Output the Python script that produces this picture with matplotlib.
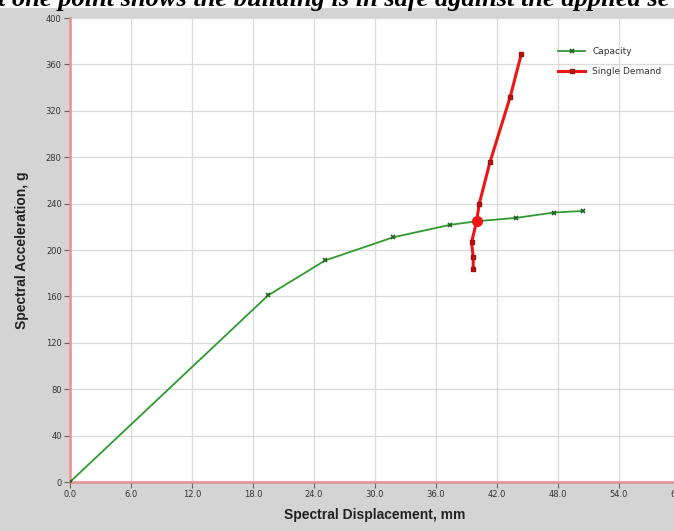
import matplotlib
matplotlib.use("Agg")
import matplotlib.pyplot as plt
from matplotlib.patches import Rectangle

# capacity curve (spectral displacement mm, spectral acceleration)
cap_x = [0.0, 19.5, 25.1, 31.8, 37.4, 40.0, 43.9, 47.6, 50.5]
cap_y = [0.0, 161.0, 191.0, 211.0, 221.7, 224.8, 227.7, 232.3, 233.7]

# single demand curve
dem_x = [44.4, 43.3, 41.3, 40.25, 40.0, 39.5, 39.66, 39.66]
dem_y = [369.3, 332.0, 275.5, 239.7, 224.8, 206.7, 193.8, 183.8]

# performance point
perf_x = [40.0]
perf_y = [224.8]

x_ticks = [0, 6, 12, 18, 24, 30, 36, 42, 48, 54, 60]
y_ticks = [0, 40, 80, 120, 160, 200, 240, 280, 320, 360, 400]

title_text = "t one point shows the building is in safe against the applied se"

bg = "#d4d4d4"
fig = plt.figure(figsize=(6.74, 5.31), dpi=100, facecolor=bg)

# white strip behind the cut-off caption line at the top
fig.patches.append(Rectangle((0, 1 - 8 / 531), 1, 8 / 531, transform=fig.transFigure,
                             facecolor="white", edgecolor="none", zorder=0))
fig.text(-0.003, 1 - 6 / 531, title_text, ha="left", va="baseline",
         family="Liberation Serif", weight="bold", style="italic", fontsize=19)

ax = fig.add_axes([70 / 674, 49 / 531, 610 / 674, 464 / 531])
ax.set_facecolor("white")

ax.plot(cap_x, cap_y, color="#2f9a2f", lw=1.3, marker="x", ms=3.5, mec="#1f5f1f",
        mew=1.2, label="Capacity", zorder=3)
ax.plot(dem_x, dem_y, color="#ee1515", lw=2.2, marker="s", ms=2.5, mec="#a01010",
        mfc="#c01010", label="Single Demand", zorder=4)
ax.plot(perf_x, perf_y, "o", color="#ee1515", ms=7, zorder=5)

ax.set_xlim(0, 60)
ax.set_ylim(0, 400)
ax.set_xticks(x_ticks)
ax.set_xticklabels(["%.1f" % v for v in x_ticks])
ax.set_yticks(y_ticks)
ax.grid(True, color="#dadada", lw=0.9)
ax.set_axisbelow(True)

for s in ["top", "right"]:
    ax.spines[s].set_visible(False)
for s in ["left", "bottom"]:
    ax.spines[s].set_color("#e89090")
    ax.spines[s].set_linewidth(1.8)

ax.tick_params(axis="both", direction="out", length=4, width=0.8, color="#666666",
               labelsize=6, labelcolor="#333333", pad=2)

ax.set_xlabel("Spectral Displacement, mm", fontsize=10, weight="bold",
              color="#222222", labelpad=6, family="Liberation Sans")
ax.set_ylabel("Spectral Acceleration, g", fontsize=10, weight="bold",
              color="#222222", labelpad=12, family="Liberation Sans")

ax.legend(loc="upper left", bbox_to_anchor=(480 / 610, 0.955), frameon=False,
          fontsize=6.5, handlelength=3, labelspacing=1.2, labelcolor="#333333")

fig.savefig("out.png", dpi=100, facecolor=bg)
